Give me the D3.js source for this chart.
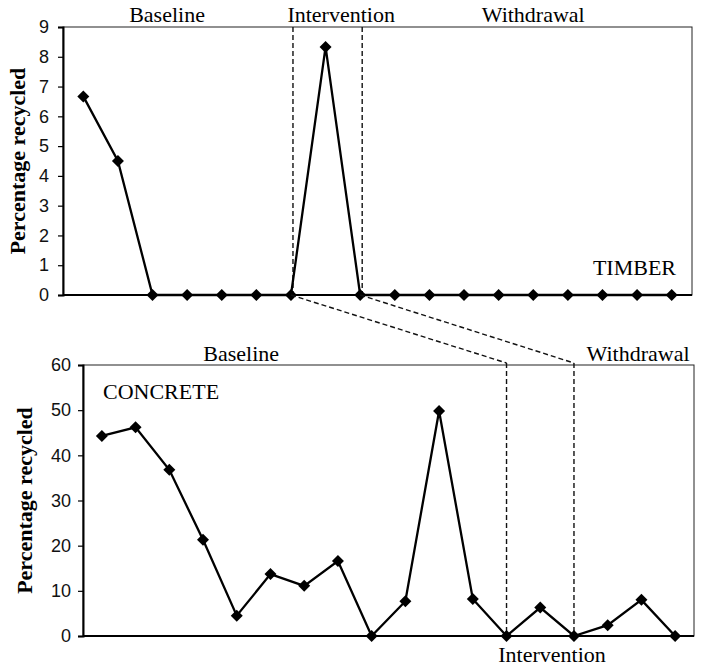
<!DOCTYPE html>
<html>
<head>
<meta charset="utf-8">
<script src="https://cdn.jsdelivr.net/npm/d3@7"></script>
<style>
  body { margin: 0; background: #fff; }
</style>
</head>
<body>
<div id="my_dataviz_recycling"></div>
<script>
// sessions (categories on the x axis)
const sessions = [1, 2, 3, 4, 5, 6, 7, 8, 9, 10, 11, 12, 13, 14, 15, 16, 17, 18];

// percentage recycled per session
const timber_values = [6.67, 4.5, 0, 0, 0, 0, 0, 8.33, 0, 0, 0, 0, 0, 0, 0, 0, 0, 0];
const concrete_values = [44.3, 46.2, 36.8, 21.3, 4.5, 13.7, 11.1, 16.6, 0, 7.7, 49.8, 8.2, 0, 6.3, 0, 2.4, 8.0, 0];

// y tick labels
const timber_ticks = [0, 1, 2, 3, 4, 5, 6, 7, 8, 9];
const concrete_ticks = [0, 10, 20, 30, 40, 50, 60];

// phase change sessions and labels
const timber_phase_sessions = [7, 9];
const concrete_phase_sessions = [13, 15];
const phase_labels = ["Baseline", "Intervention", "Withdrawal"];

const width_total = 703, height_total = 666;

const svg_recycling = d3.select("#my_dataviz_recycling")
  .append("svg")
    .attr("width", width_total)
    .attr("height", height_total);

function draw_panel(opt) {
  const w = opt.right - opt.left,
        h = opt.bottom - opt.top;

  const g = svg_recycling.append("g")
    .attr("transform", `translate(${opt.left}, ${opt.top})`);

  const x = d3.scaleLinear()
    .domain([0.5, sessions.length + 0.5])
    .range([opt.xPad, w - opt.xPad]);

  const y = d3.scaleLinear()
    .domain([0, opt.yMax])
    .range([h, 0]);

  // frame
  g.append("rect")
    .attr("width", w)
    .attr("height", h)
    .attr("fill", "none")
    .attr("stroke", "#222")
    .attr("stroke-width", 1);

  // bottom line
  g.append("line")
    .attr("x1", 0).attr("x2", w)
    .attr("y1", y(0)).attr("y2", y(0))
    .attr("stroke", "#000")
    .attr("stroke-width", 1.8);

  // Y axis
  const yAxis = g.append("g")
    .call(d3.axisLeft(y).tickValues(opt.ticks).tickSize(5).tickPadding(opt.tickPad).tickFormat(d3.format("d")));
  yAxis.select(".domain").attr("stroke", "#000").attr("stroke-width", 2);
  yAxis.selectAll(".tick line").attr("stroke", "#000").attr("stroke-width", 1.2);
  yAxis.selectAll(".tick text")
    .style("font-family", "'Liberation Sans', Arial, sans-serif")
    .style("font-size", "18px")
    .attr("fill", "#111");

  // text label for the y axis
  g.append("text")
    .attr("transform", `translate(${opt.titleX - opt.left}, ${h / 2}) rotate(-90)`)
    .style("text-anchor", "middle")
    .style("font-family", "'Liberation Serif', 'Times New Roman', serif")
    .style("font-weight", "bold")
    .style("font-size", "22px")
    .text("Percentage recycled");

  // phase change lines
  g.selectAll("phaseLines")
    .data(opt.phases)
    .join("line")
      .attr("x1", d => x(d) + opt.phaseShift)
      .attr("x2", d => x(d) + opt.phaseShift)
      .attr("y1", opt.phaseTop)
      .attr("y2", h)
      .attr("stroke", "#111")
      .attr("stroke-width", 1.4)
      .attr("stroke-dasharray", "5,3");

  // the line
  const line = d3.line()
    .x((d, i) => x(sessions[i]))
    .y(d => y(d));

  g.append("path")
    .datum(opt.values)
    .attr("d", line)
    .attr("fill", "none")
    .attr("stroke", "#000")
    .attr("stroke-width", 2.3);

  // the points (diamonds)
  g.selectAll("myPoints")
    .data(opt.values)
    .join("path")
      .attr("d", d3.symbol(d3.symbolSquare, 72))
      .attr("transform", (d, i) => `translate(${x(sessions[i])}, ${y(d)}) rotate(45)`)
      .attr("fill", "#000");

  // phase labels
  g.selectAll("phaseLabels")
    .data(opt.labels)
    .join("text")
      .attr("x", d => x(d.at))
      .attr("y", d => d.y - opt.top)
      .style("text-anchor", "middle")
      .style("font-family", "'Liberation Serif', 'Times New Roman', serif")
      .style("font-size", "22px")
      .text(d => d.text);

  // material name
  g.append("text")
    .attr("x", opt.name.x - opt.left)
    .attr("y", opt.name.y - opt.top)
    .style("text-anchor", opt.name.anchor)
    .style("font-family", "'Liberation Serif', 'Times New Roman', serif")
    .style("font-size", "22px")
    .text(opt.name.text);

  return {
    px: s => opt.left + x(s),
    py: v => opt.top + y(v)
  };
}

const timber = draw_panel({
  left: 63, right: 692, top: 27, bottom: 295, xPad: 3,
  yMax: 9, ticks: timber_ticks, tickPad: 9, titleX: 25,
  values: timber_values, phases: timber_phase_sessions, phaseShift: 2, phaseTop: 0,
  labels: [
    {text: phase_labels[0], at: 3.42, y: 22},
    {text: phase_labels[1], at: 8.45, y: 22},
    {text: phase_labels[2], at: 14.0, y: 22}
  ],
  name: {text: "TIMBER", x: 676, y: 275, anchor: "end"}
});

const concrete = draw_panel({
  left: 83, right: 694, top: 365, bottom: 636, xPad: 2,
  yMax: 60, ticks: concrete_ticks, tickPad: 7, titleX: 32,
  values: concrete_values, phases: concrete_phase_sessions, phaseShift: 0, phaseTop: -2,
  labels: [
    {text: phase_labels[0], at: 5.13, y: 361},
    {text: phase_labels[2], at: 16.9, y: 361},
    {text: phase_labels[1], at: 14.35, y: 662}
  ],
  name: {text: "CONCRETE", x: 103, y: 399, anchor: "start"}
});

// dashed connectors between the two panels
svg_recycling.selectAll("connectors")
  .data(timber_phase_sessions.map((s, i) => [s, concrete_phase_sessions[i]]))
  .join("line")
    .attr("x1", d => timber.px(d[0]))
    .attr("y1", timber.py(0))
    .attr("x2", d => concrete.px(d[1]))
    .attr("y2", concrete.py(60) - 2)
    .attr("stroke", "#111")
    .attr("stroke-width", 1.4)
    .attr("stroke-dasharray", "5,3");
</script>
</body>
</html>
